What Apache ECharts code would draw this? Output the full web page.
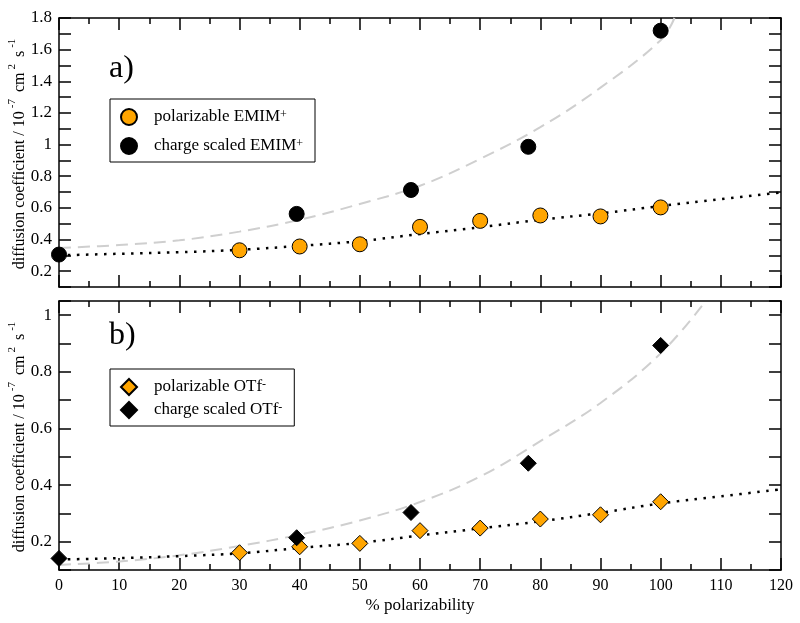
<!DOCTYPE html>
<html>
<head>
<meta charset="utf-8">
<script src="https://cdn.jsdelivr.net/npm/echarts@6/dist/echarts.min.js"></script>
<style>
  html, body { margin: 0; padding: 0; background: #fff; }
  #diffusion { width: 800px; height: 623px; }
</style>
</head>
<body>
<div id="diffusion"></div>
<script>
// measured points
var polX = [30, 40, 50, 60, 70, 80, 90, 100];
var scaledX = [0, 39.5, 58.5, 78, 100];
var emimPol = [0.332, 0.356, 0.370, 0.480, 0.518, 0.552, 0.546, 0.603];
var emimScaled = [0.305, 0.562, 0.713, 0.986, 1.72];
var otfPol = [0.161, 0.182, 0.194, 0.239, 0.248, 0.280, 0.295, 0.341];
var otfScaled = [0.141, 0.214, 0.303, 0.477, 0.893];

// fit curves
var fitX = [0, 10, 20, 30, 40, 50, 60, 70, 80, 90, 100, 110, 120];
var emimPolFit = [0.30, 0.31, 0.32, 0.335, 0.36, 0.39, 0.435, 0.478, 0.525, 0.565, 0.612, 0.655, 0.698];
var otfPolFit = [0.137, 0.142, 0.149, 0.159, 0.178, 0.196, 0.222, 0.247, 0.272, 0.302, 0.335, 0.36, 0.385];
var emimScaledFitX = [0, 10, 20, 30, 40, 50, 60, 70, 80, 90, 100, 102.3];
var emimScaledFit = [0.347, 0.365, 0.395, 0.45, 0.525, 0.625, 0.74, 0.91, 1.11, 1.36, 1.66, 1.8];
var otfScaledFitX = [0, 10, 20, 30, 40, 50, 60, 70, 80, 90, 100, 107.5];
var otfScaledFit = [0.118, 0.13, 0.152, 0.185, 0.225, 0.275, 0.34, 0.43, 0.555, 0.69, 0.865, 1.05];

var xTicks = [0, 120, 10];

function pairs(xs, ys) {
  return xs.map(function (x, i) { return [x, ys[i]]; });
}

var FONT = '"Liberation Serif", "DejaVu Serif", serif';
var ORANGE = '#ffa500';

function yLabel(v) {
  var t = Math.round(v * 10);
  if (Math.abs(v * 10 - t) > 1e-6) return '';
  return t % 2 === 0 ? String(t / 10) : '';
}

function xAxisOf(grid, pos, labels) {
  return {
    type: 'value', gridIndex: grid, position: pos,
    min: xTicks[0], max: xTicks[1], interval: xTicks[2],
    axisLine: { show: true, onZero: false, lineStyle: { color: '#000', width: 1.5 } },
    axisTick: { show: true, inside: true, length: 12, lineStyle: { color: '#000', width: 1.5 } },
    minorTick: { show: true, splitNumber: 2, length: 6, lineStyle: { color: '#000', width: 1.5 } },
    splitLine: { show: false },
    axisLabel: { show: labels, color: '#000', fontFamily: FONT, fontSize: 16, margin: 8 },
    name: labels ? '% polarizability' : '',
    nameLocation: 'middle', nameGap: 27, nameMoveOverlap: false,
    nameTextStyle: { color: '#000', fontFamily: FONT, fontSize: 17 }
  };
}

var yName = 'diffusion coefficient / 10{sup|-7} cm{sup|2} s{sup|-1}';

function yAxisOf(grid, pos, min, max, labels) {
  return {
    type: 'value', gridIndex: grid, position: pos,
    min: min, max: max, interval: 0.1,
    axisLine: { show: true, onZero: false, lineStyle: { color: '#000', width: 1.5 } },
    axisTick: { show: true, inside: true, length: 12, lineStyle: { color: '#000', width: 1.5 } },
    splitLine: { show: false },
    axisLabel: { show: labels, color: '#000', fontFamily: FONT, fontSize: 17, margin: 7, formatter: yLabel },
    name: labels ? yName : '',
    nameLocation: 'middle', nameGap: 26, nameRotate: 90, nameMoveOverlap: false,
    nameTextStyle: {
      color: '#000', fontFamily: FONT, fontSize: 16, lineHeight: 26,
      rich: { sup: { fontFamily: FONT, fontSize: 11, verticalAlign: 'top', lineHeight: 11, padding: [0, 3, 0, 3] } }
    }
  };
}

var legendNames = {
  'polarizable EMIM+': 'polarizable EMIM{sup|+}',
  'charge scaled EMIM+': 'charge scaled EMIM{sup|+}',
  'polarizable OTf-': 'polarizable OTf{sup|-}',
  'charge scaled OTf-': 'charge scaled OTf{sup|-}'
};

function legendOf(top, gap, names) {
  return {
    left: 110, top: top, orient: 'vertical',
    data: names,
    itemWidth: 16, itemHeight: 16, itemGap: gap,
    padding: [9, 12, 7, 10],
    borderColor: '#000', borderWidth: 1, backgroundColor: '#fff',
    selectedMode: false,
    formatter: function (n) { return legendNames[n]; },
    textStyle: {
      color: '#000', fontFamily: FONT, fontSize: 17, padding: [0, 0, 0, 12], lineHeight: 17,
      rich: { sup: { fontFamily: FONT, fontSize: 12, verticalAlign: 'top', lineHeight: 10 } }
    }
  };
}

function fitLine(name, x, y, grid, dashed) {
  return {
    name: name, type: 'line', xAxisIndex: grid, yAxisIndex: grid,
    data: pairs(x, y), smooth: 0.4, showSymbol: false, silent: true, z: 1,
    lineStyle: dashed
      ? { color: '#cfcfcf', width: 2, type: [12, 7] }
      : { color: '#000', width: 2.5, type: [2.5, 6.5] }
  };
}

function points(name, x, y, grid, symbol, fill) {
  return {
    name: name, type: 'scatter', xAxisIndex: grid, yAxisIndex: grid,
    data: pairs(x, y), symbol: symbol, symbolSize: symbol === 'diamond' ? 16 : 15, z: 3,
    itemStyle: { color: fill, borderColor: '#000', borderWidth: 1, opacity: 1 }
  };
}

var option = {
  animation: false,
  backgroundColor: '#fff',
  grid: [
    { left: 59, right: 19, top: 18, height: 269, outerBoundsMode: 'none' },
    { left: 59, right: 19, top: 301, height: 269, outerBoundsMode: 'none' }
  ],
  xAxis: [
    xAxisOf(0, 'bottom', false), xAxisOf(0, 'top', false),
    xAxisOf(1, 'bottom', true), xAxisOf(1, 'top', false)
  ],
  yAxis: [
    yAxisOf(0, 'left', 0.1, 1.8, true), yAxisOf(0, 'right', 0.1, 1.8, false),
    yAxisOf(1, 'left', 0.1, 1.05, true), yAxisOf(1, 'right', 0.1, 1.05, false)
  ],
  legend: [
    legendOf(99, 11, ['polarizable EMIM+', 'charge scaled EMIM+']),
    legendOf(369, 5, ['polarizable OTf-', 'charge scaled OTf-'])
  ],
  graphic: [
    { type: 'text', left: 109, top: 53, style: { text: 'a)', font: '32px ' + FONT, fill: '#000' } },
    { type: 'text', left: 109, top: 320, style: { text: 'b)', font: '32px ' + FONT, fill: '#000' } }
  ],
  series: [
    fitLine('emim scaled fit', emimScaledFitX, emimScaledFit, 0, true),
    fitLine('emim pol fit', fitX, emimPolFit, 0, false),
    points('polarizable EMIM+', polX, emimPol, 0, 'circle', ORANGE),
    points('charge scaled EMIM+', scaledX, emimScaled, 0, 'circle', '#000'),
    fitLine('otf scaled fit', otfScaledFitX, otfScaledFit, 2, true),
    fitLine('otf pol fit', fitX, otfPolFit, 2, false),
    points('polarizable OTf-', polX, otfPol, 2, 'diamond', ORANGE),
    points('charge scaled OTf-', scaledX, otfScaled, 2, 'diamond', '#000')
  ]
};

var chart = echarts.init(document.getElementById('diffusion'));
chart.setOption(option);
window.addEventListener('resize', function () {
  chart.resize();
});
</script>
</body>
</html>
